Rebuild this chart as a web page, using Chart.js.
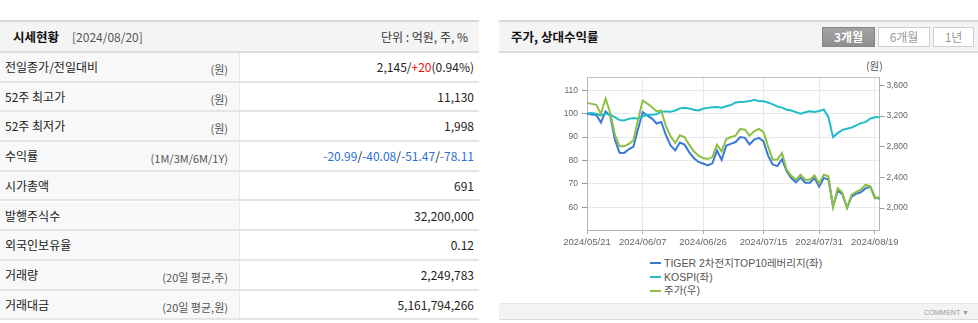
<!DOCTYPE html>
<html><head><meta charset="utf-8">
<script src="https://cdn.jsdelivr.net/npm/chart.js@4.4.1/dist/chart.umd.min.js"></script>
<style>
html,body{margin:0;padding:0;background:#fff;width:978px;height:323px;overflow:hidden;font-family:"Noto Sans CJK KR","Liberation Sans",sans-serif;color:#222;}
.abs{position:absolute;}
.hdr{position:absolute;top:20px;height:33px;background:#f4f4f4;border-top:2px solid #d8d8d8;border-bottom:2px solid #dedede;box-sizing:border-box;}
.ttl{position:absolute;top:27px;font-size:12.5px;font-weight:bold;color:#111;line-height:20px;}
.row{position:absolute;left:0;width:479px;height:29.7px;box-sizing:border-box;border-bottom:2px solid #e4e4e4;}
.lab{position:absolute;left:0;top:0;width:240px;height:100%;background:#f8f8f8;border-right:1px solid #e8e8e8;box-sizing:border-box;}
.lt{position:absolute;left:5px;top:6px;font-size:12px;line-height:16px;}
.un{position:absolute;right:11px;top:8px;font-size:11px;line-height:16px;color:#555;}
.val{position:absolute;right:5px;top:6px;font-size:12px;line-height:16px;}
.btn{position:absolute;top:27px;height:20px;box-sizing:border-box;font-size:12px;line-height:18px;text-align:center;}
#legend{position:absolute;left:650px;top:257px;font-size:10.5px;line-height:13.7px;color:#555;font-family:"Liberation Sans","Noto Sans CJK KR",sans-serif;}
#legend .sw{display:inline-block;width:11px;height:2px;vertical-align:middle;margin-right:3px;position:relative;top:-1px;}
</style></head>
<body>
<!-- left panel -->
<div class="hdr" style="left:0;width:479px;"></div>
<div class="ttl" style="left:13px;">시세현황</div>
<div class="abs" style="left:72px;top:29px;font-size:12px;color:#555;line-height:16px;">[2024/08/20]</div>
<div class="abs" style="right:510px;top:29px;font-size:12px;color:#333;line-height:16px;">단위 : 억원, 주, %</div>
<div id="rows"></div>

<!-- right panel -->
<div class="hdr" style="left:499px;width:479px;"></div>
<div class="ttl" style="left:511px;">주가, 상대수익률</div>
<div class="btn" style="left:822px;width:53px;background:linear-gradient(#a4a4a4,#8e8e8e);border:1px solid #858585;color:#fff;font-weight:bold;">3개월</div>
<div class="btn" style="left:878px;width:52px;background:#fff;border:1px solid #cfcfcf;color:#999;">6개월</div>
<div class="btn" style="left:933px;width:41px;background:#fff;border:1px solid #cfcfcf;color:#999;">1년</div>
<div class="abs" style="left:866px;top:59px;font-size:10.5px;color:#555;line-height:14px;">(원)</div>
<div class="abs" style="left:500px;top:55px;width:476px;height:200px;"><canvas id="c" width="476" height="200"></canvas></div>
<div id="legend"></div>
<div class="abs" style="left:499px;top:303px;width:479px;height:15px;background:#f3f3f3;border-top:1px solid #e8e8e8;border-bottom:1px solid #dcdcdc;"></div>
<div class="abs" style="left:924px;top:308px;font-size:7px;color:#999;line-height:9px;font-family:'Liberation Sans',sans-serif;">COMMENT ▼</div>

<script>
// ---- data ----
const dates = ['2024/05/21','2024/05/22','2024/05/23','2024/05/24','2024/05/27','2024/05/28','2024/05/29','2024/05/30','2024/05/31',
'2024/06/03','2024/06/04','2024/06/05','2024/06/07','2024/06/10','2024/06/11','2024/06/12','2024/06/13','2024/06/14',
'2024/06/17','2024/06/18','2024/06/19','2024/06/20','2024/06/21','2024/06/24','2024/06/25','2024/06/26','2024/06/27','2024/06/28',
'2024/07/01','2024/07/02','2024/07/03','2024/07/04','2024/07/05','2024/07/08','2024/07/09','2024/07/10','2024/07/11','2024/07/12',
'2024/07/15','2024/07/16','2024/07/17','2024/07/18','2024/07/19','2024/07/22','2024/07/23','2024/07/24','2024/07/25','2024/07/26',
'2024/07/29','2024/07/30','2024/07/31','2024/08/01','2024/08/02','2024/08/05','2024/08/06','2024/08/07','2024/08/08','2024/08/09',
'2024/08/12','2024/08/13','2024/08/14','2024/08/16','2024/08/19','2024/08/20'];
const tigerRel = [100.0,99.7,99.5,96.2,101.0,99.2,89.0,83.3,83.2,84.8,86.0,93.5,100.7,99.2,97.9,95.8,96.5,90.8,86.4,84.3,
87.7,86.8,83.6,81.1,79.4,78.7,77.9,78.8,84.3,80.3,86.4,87.1,87.9,90.0,89.7,86.9,88.9,89.7,88.3,82.1,
78.3,77.6,80.6,75.4,72.5,70.7,72.7,70.5,70.5,72.5,68.8,72.5,72.0,60.3,67.1,65.6,59.8,64.6,65.8,66.5,
68.1,68.9,64.3,63.6];
const kospiRel = [100.2,100.3,100.0,99.3,100.1,99.6,98.5,97.3,97.1,97.8,98.2,97.9,98.8,99.6,99.6,99.8,100.9,101.0,100.8,101.4,
102.3,102.6,102.2,101.7,101.4,102.1,102.5,102.8,102.9,102.6,103.2,103.7,104.8,105.0,105.1,105.4,106.0,105.4,105.3,104.8,
104.0,103.1,102.6,101.7,101.4,100.7,100.0,100.6,101.1,100.7,101.2,101.8,98.5,90.0,91.7,93.1,93.6,94.1,95.0,96.0,
96.4,97.9,98.5,98.6];
const price = [3373,3360,3347,3229,3430,3242,2959,2806,2806,2837,2884,3155,3403,3364,3316,3264,3273,3068,2937,2850,
2950,2928,2828,2741,2684,2653,2640,2666,2828,2741,2902,2928,2946,3033,3024,2946,3002,3033,2994,2806,
2632,2632,2719,2501,2422,2370,2435,2370,2370,2427,2318,2435,2414,2015,2261,2204,2000,2174,2213,2239,
2305,2283,2125,2145];
const seriesNames = ['TIGER 2차전지TOP10레버리지(좌)','KOSPI(좌)','주가(우)'];
const leftTicks = [60,70,80,90,100,110];
const rightTicks = [2000,2400,2800,3200,3600];
const xTickDates = ['2024/05/21','2024/06/07','2024/06/26','2024/07/15','2024/07/31','2024/08/19'];

// table
const rowLabels = ['전일종가/전일대비','52주 최고가','52주 최저가','수익률','시가총액','발행주식수','외국인보유율','거래량','거래대금'];
const rowUnits = ['(원)','(원)','(원)','(1M/3M/6M/1Y)','','','','(20일 평균,주)','(20일 평균,원)'];
const rowValues = ['2,145/<span style="color:#e8120c">+20</span>(0.94%)','11,130','1,998',
 '<span style="color:#2d6fd8">-20.99</span>/<span style="color:#2d6fd8">-40.08</span>/<span style="color:#2d6fd8">-51.47</span>/<span style="color:#2d6fd8">-78.11</span>',
 '691','32,200,000','0.12','2,249,783','5,161,794,266'];

const rowsEl = document.getElementById('rows');
rowLabels.forEach((l,i)=>{
  const r = document.createElement('div');
  r.className='row'; r.style.top=(53+29.7*i)+'px';
  r.innerHTML = '<div class="lab"><span class="lt">'+l+'</span><span class="un">'+rowUnits[i]+'</span></div><span class="val">'+rowValues[i]+'</span>';
  rowsEl.appendChild(r);
});

Chart.defaults.font.family = "'Liberation Sans', Arial, sans-serif";
Chart.defaults.color = '#666';

const frame = {
  id:'frame',
  beforeDatasetsDraw(chart){
    const a = chart.chartArea, ctx = chart.ctx;
    ctx.save(); ctx.strokeStyle='#c4c4c4'; ctx.lineWidth=1;
    ctx.beginPath(); ctx.moveTo(a.left, a.top+0.5); ctx.lineTo(a.right, a.top+0.5); ctx.stroke();
    ctx.restore();
  }
};

const chart = new Chart(document.getElementById('c'), {
  type:'line',
  data:{
    labels: dates,
    datasets:[
      {label:seriesNames[0], data:tigerRel, borderColor:'#3a78d6', yAxisID:'y', order:2},
      {label:seriesNames[1], data:kospiRel, borderColor:'#21bdc9', yAxisID:'y', order:1},
      {label:seriesNames[2], data:price, borderColor:'#8dbf45', yAxisID:'y1', order:0}
    ]
  },
  options:{
    responsive:false, animation:false, devicePixelRatio:1,
    layout:{padding:{top:22,left:0,right:0,bottom:0}},
    elements:{line:{borderWidth:2,tension:0},point:{radius:0}},
    plugins:{legend:{display:false},tooltip:{enabled:false}},
    scales:{
      x:{
        grid:{color:'#e8e8e8',tickColor:'#aaa',tickLength:4},
        border:{color:'#b5b5b5'},
        ticks:{autoSkip:false,maxRotation:0,minRotation:0,padding:3,font:{size:9.5},color:'#666'},
        afterBuildTicks(s){ s.ticks = s.ticks.filter(t=>xTickDates.includes(dates[t.value])); },
        afterFit(s){ s.height = 25; }
      },
      y:{
        position:'left', min:50.3, max:115.7,
        grid:{color:'#e8e8e8',tickColor:'#999',tickLength:5},
        border:{color:'#b5b5b5'},
        ticks:{padding:4,font:{size:8.5},color:'#666'},
        afterBuildTicks(s){ s.ticks = leftTicks.map(v=>({value:v})); },
        afterFit(s){ s.width = 87; }
      },
      y1:{
        position:'right', min:1714, max:3711,
        grid:{drawOnChartArea:false,tickColor:'#999',tickLength:5},
        border:{color:'#b5b5b5'},
        ticks:{padding:2,font:{size:8.5},color:'#666',callback:v=>v.toLocaleString('en-US')},
        afterBuildTicks(s){ s.ticks = rightTicks.map(v=>({value:v})); },
        afterFit(s){ s.width = 96.5; }
      }
    }
  },
  plugins:[frame]
});

const lg = document.getElementById('legend');
chart.data.datasets.forEach(ds=>{
  const d = document.createElement('div');
  d.innerHTML = '<span class="sw" style="background:'+ds.borderColor+'"></span>'+ds.label;
  lg.appendChild(d);
});
</script>
</body></html>
